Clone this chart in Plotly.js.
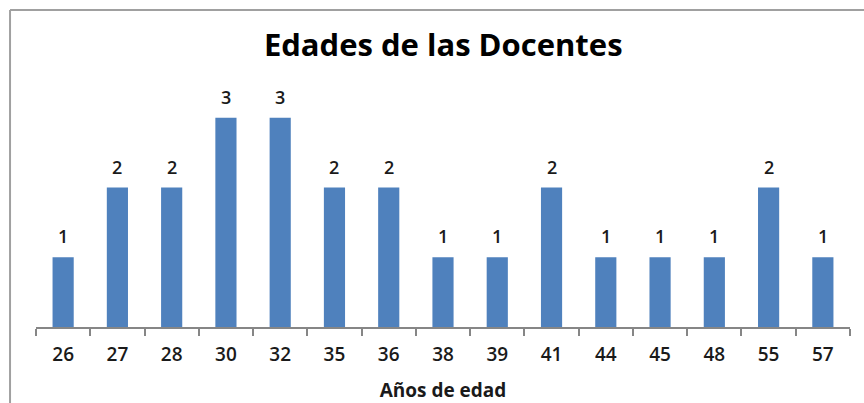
<!DOCTYPE html>
<html>
<head>
<meta charset="utf-8">
<script src="https://cdn.plot.ly/plotly-3.0.1.min.js"></script>
<style>
html,body{margin:0;padding:0;background:#fff;}
#chart{width:864px;height:403px;}
</style>
</head>
<body>
<div id="chart"></div>
<script>
const categories = ["26","27","28","30","32","35","36","38","39","41","44","45","48","55","57"];
const counts = [1,2,2,3,3,2,2,1,1,2,1,1,1,2,1];
const chartTitle = "Edades de las Docentes";
const xTitle = "Años de edad";

const FONT = "Open Sans, sans-serif";

const annotations = categories.map((c, i) => ({
  x: i, y: counts[i], xref: 'x', yref: 'y',
  text: String(counts[i]), showarrow: false,
  yanchor: 'bottom', yshift: 7,
  font: {family: FONT, size: 18, color: '#1a1a1a', weight: 600}
}));

const trace = {
  type: 'bar',
  x: categories,
  y: counts,
  marker: {color: '#4F81BD', line: {width: 0}},
  hoverinfo: 'x+y'
};

const layout = {
  width: 864, height: 403,
  margin: {l: 36, r: 14, t: 76, b: 76},
  paper_bgcolor: '#ffffff',
  plot_bgcolor: '#ffffff',
  showlegend: false,
  bargap: 0.61,
  title: {
    text: chartTitle,
    font: {family: FONT, size: 31, color: '#000000', weight: 700},
    x: 0.513, xanchor: 'center',
    y: 0.888, yanchor: 'middle', yref: 'container'
  },
  xaxis: {
    type: 'category',
    range: [-0.5, categories.length - 0.5],
    autorange: false,
    showline: true, linecolor: '#868686', linewidth: 2,
    ticks: 'outside', tickson: 'boundaries', ticklen: 7, tickcolor: '#868686', tickwidth: 2,
    ticklabelstandoff: 9,
    tickangle: 0,
    tickfont: {family: FONT, size: 19, color: '#1a1a1a', weight: 600},
    showgrid: false, zeroline: false,
    title: {text: xTitle, standoff: 18,
      font: {family: FONT, size: 19, color: '#1a1a1a', weight: 700}}
  },
  yaxis: {
    range: [0, 3.6],
    visible: false, showgrid: false, zeroline: false
  },
  annotations: annotations,
  shapes: [
    {type: 'line', xref: 'paper', yref: 'paper', x0: -0.0319, x1: 1.05, y0: 1.263, y1: 1.263,
     line: {color: '#a0a0a0', width: 2}},
    {type: 'line', xref: 'paper', yref: 'paper', x0: -0.0319, x1: -0.0319, y0: 1.263, y1: -0.4,
     line: {color: '#a0a0a0', width: 2}}
  ]
};

Plotly.newPlot('chart', [trace], layout, {displayModeBar: false, staticPlot: true});
</script>
</body>
</html>
